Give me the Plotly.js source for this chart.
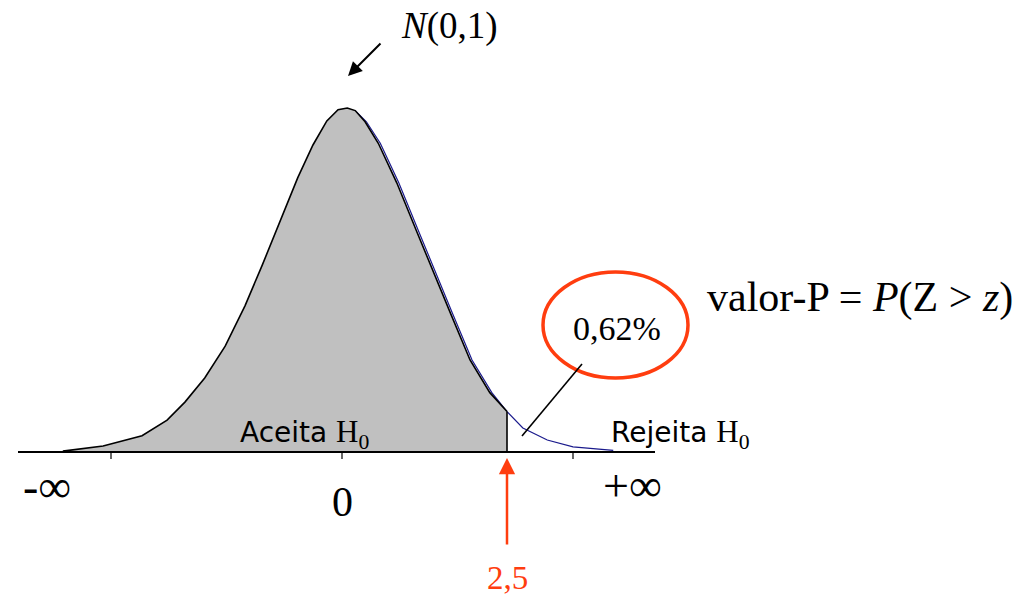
<!DOCTYPE html>
<html>
<head>
<meta charset="utf-8">
<script src="https://cdn.plot.ly/plotly-3.0.1.min.js"></script>
<style>html,body{margin:0;padding:0;background:#fff;}</style>
</head>
<body>
<div id="chart" style="width:1026px;height:598px;"></div>
<script>
// Curve: z (standard units) and density-like height
const accX = [-4.23,-3.62,-3.03,-2.65,-2.38,-2.08,-1.77,-1.47,-1.21,-0.94,-0.67,-0.44,-0.23,-0.06,0.08,0.20,0.35,0.55,0.83,1.14,1.33,1.64,1.94,2.24,2.50];
const accY = [0.001,0.007,0.019,0.037,0.058,0.086,0.123,0.170,0.217,0.267,0.319,0.357,0.385,0.398,0.400,0.397,0.384,0.359,0.313,0.255,0.219,0.162,0.107,0.069,0.047];
const tailX = [0.20,0.37,0.58,0.86,1.17,1.36,1.67,1.97,2.27,2.50,2.74,3.11,3.50,4.11];
const tailY = [0.397,0.384,0.359,0.313,0.255,0.219,0.162,0.107,0.069,0.047,0.028,0.014,0.006,0.002];
const cutoff = 2.5;
const tickVals = [-3.5, 0, 3.5];
const tickLabels = ["-∞", "0", "+∞"];
const pValueText = "0,62%";
const cutoffLabel = "2,5";

const PX = 66, Y0 = 452, YS = 860;          // layout scale
const xr = [-342/PX, (1026-342)/PX];
const yr = [(Y0-598)/YS, Y0/YS];
const px2x = p => (p-342)/PX;
const py2y = p => (Y0-p)/YS;

const serif = "Liberation Serif, Times New Roman, serif";
const casual = "DejaVu Sans, sans-serif";
const red = "#FF3D0F";

const traces = [
  {x: tailX, y: tailY, mode: "lines", line: {color: "#1a1a8c", width: 1.2}, hoverinfo: "skip"},
  {x: accX, y: accY, mode: "lines", fill: "tozeroy", fillcolor: "#C0C0C0",
   line: {color: "#000", width: 1.6}, hoverinfo: "skip"}
];

const shapes = [
  {type: "line", x0: px2x(18), x1: px2x(655), y0: 0, y1: 0, line: {color: "#000", width: 2.2}},
  {type: "line", x0: cutoff, x1: cutoff, y0: 0, y1: accY[accY.length-1], line: {color: "#000", width: 1.6}},
  {type: "circle", x0: px2x(543), x1: px2x(688), y0: py2y(378), y1: py2y(272), line: {color: red, width: 3.5}},
  {type: "line", x0: px2x(582), x1: px2x(522), y0: py2y(364), y1: py2y(436), line: {color: "#000", width: 1.6}}
];
tickVals.forEach(v => shapes.push({type: "line", x0: v, x1: v, y0: 0, y1: -7/YS, line: {color: "#000", width: 1.2}}));

const annotations = [
  {x: tickVals[0], y: py2y(486), text: tickLabels[0], showarrow: false, font: {family: serif, size: 46, color: "#000"}, xshift: -64},
  {x: tickVals[1], y: py2y(502), text: tickLabels[1], showarrow: false, font: {family: serif, size: 42, color: "#000"}},
  {x: tickVals[2], y: py2y(485), text: tickLabels[2], showarrow: false, font: {family: serif, size: 46, color: "#000"}, xshift: 59},
  {x: px2x(305), y: py2y(434), text: 'Aceita <span style="font-family:Liberation Serif;font-size:31px">H<sub>0</sub></span>', showarrow: false, font: {family: casual, size: 28, color: "#000"}},
  {x: px2x(680), y: py2y(434), text: 'Rejeita <span style="font-family:Liberation Serif;font-size:31px">H<sub>0</sub></span>', showarrow: false, font: {family: casual, size: 28, color: "#000"}},
  {x: px2x(449), y: py2y(26), text: "<i>N</i>(0,1)", showarrow: false, font: {family: serif, size: 37, color: "#000"}},
  {x: px2x(348), y: py2y(76), ax: 34, ay: -34, text: "", showarrow: true, arrowhead: 2, arrowsize: 1.4, arrowwidth: 2, arrowcolor: "#000"},
  {x: px2x(860), y: py2y(297), text: "valor-P = <i>P</i>(Z &gt; <i>z</i>)", showarrow: false, font: {family: serif, size: 42, color: "#000"}},
  {x: px2x(617), y: py2y(328), text: pValueText, showarrow: false, font: {family: serif, size: 34, color: "#000"}},
  {x: cutoff, y: py2y(458), ax: 0, ay: 88, text: "", showarrow: true, arrowhead: 2, arrowsize: 1.3, arrowwidth: 2.5, arrowcolor: red},
  {x: cutoff, y: py2y(578), text: cutoffLabel, showarrow: false, font: {family: serif, size: 33, color: red}}
];

const layout = {
  width: 1026, height: 598,
  margin: {l: 0, r: 0, t: 0, b: 0},
  paper_bgcolor: "#fff", plot_bgcolor: "#fff",
  showlegend: false,
  xaxis: {range: xr, visible: false, fixedrange: true},
  yaxis: {range: yr, visible: false, fixedrange: true},
  shapes: shapes,
  annotations: annotations
};

Plotly.newPlot("chart", traces, layout, {staticPlot: true, displayModeBar: false});
</script>
</body>
</html>
